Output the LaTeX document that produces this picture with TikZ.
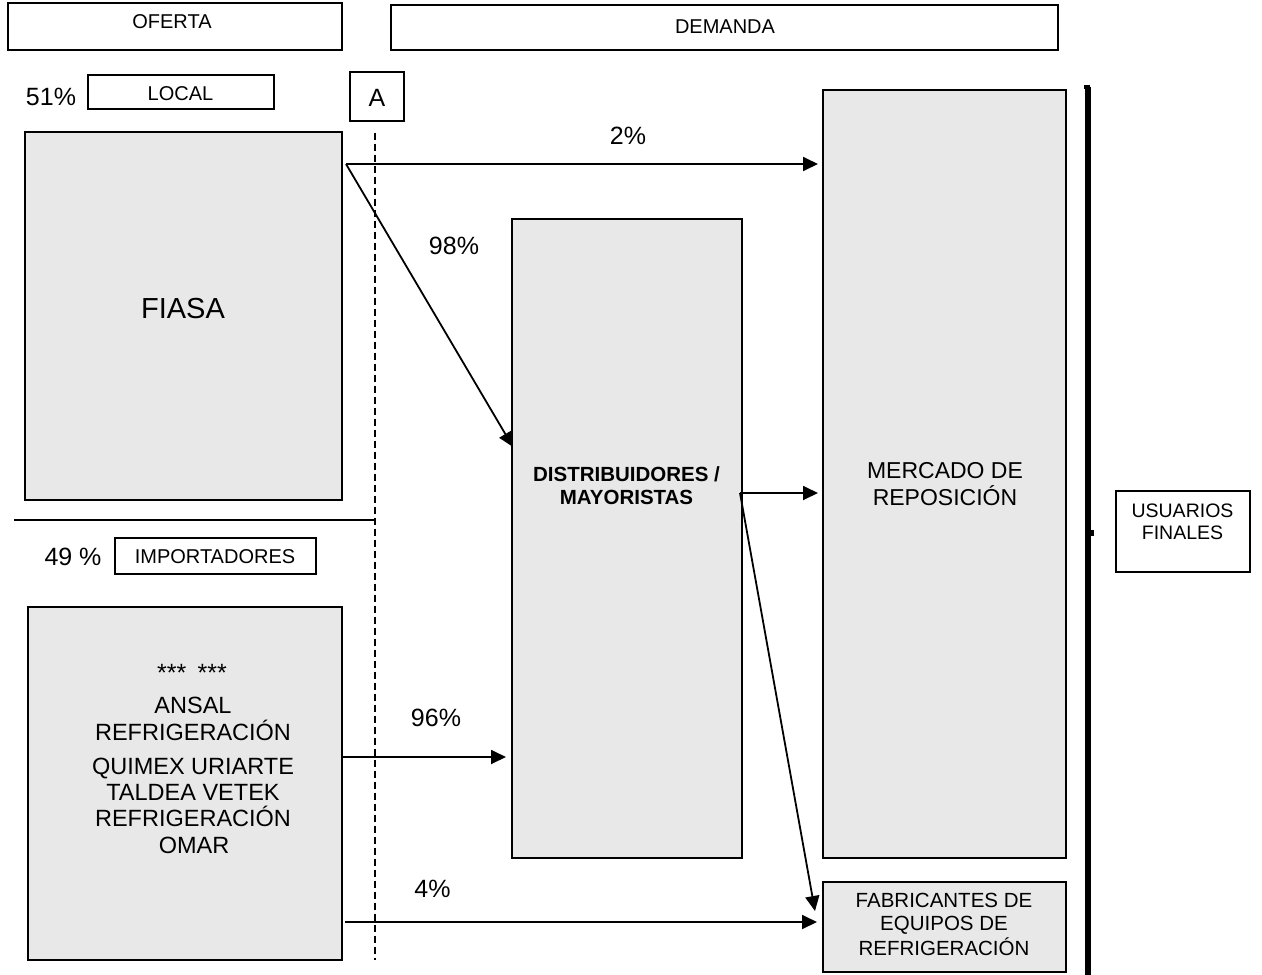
\documentclass[tikz,border=0pt]{standalone}
\usepackage{fontspec}
\setmainfont{Liberation Sans}
\usetikzlibrary{arrows.meta,calc}
\definecolor{boxgray}{RGB}{232,232,232}
\newcommand{\fsz}[1]{\fontsize{#1}{#1}\selectfont}
\begin{document}
\begin{tikzpicture}[x=1pt,y=-1pt,
  frame/.style={draw, line width=1.3pt, inner sep=0pt},
  grayframe/.style={frame, fill=boxgray},
  txt/.style={inner sep=0pt, anchor=base},
  arr/.style={line width=1.8pt, -{Triangle[length=15pt,width=14pt]}},
  sep/.style={line width=1.3pt},
  dline/.style={line width=1.3pt, dash pattern=on 7pt off 4pt},
]
\useasboundingbox (0,0) rectangle (1262,975);

% boxes
\node[frame, minimum width=334pt, minimum height=47pt] (oferta) at (175,26.5) {};
\node[frame, minimum width=667pt, minimum height=45pt] (demanda) at (724.5,27.5) {};
\node[frame, minimum width=186pt, minimum height=34pt] (local) at (181,92) {};
\node[frame, minimum width=54pt, minimum height=49pt] (abox) at (377,96.5) {};
\node[grayframe, minimum width=317pt, minimum height=368pt] (fiasa) at (183.5,316) {};
\node[frame, minimum width=201pt, minimum height=36pt] (imp) at (215.5,556) {};
\node[grayframe, minimum width=314pt, minimum height=353pt] (imps) at (185,783.5) {};
\node[grayframe, minimum width=230pt, minimum height=639pt] (dist) at (627,538.5) {};
\node[grayframe, minimum width=243pt, minimum height=768pt] (merc) at (944.5,474) {};
\node[grayframe, minimum width=243pt, minimum height=90pt] (fab) at (944.5,927) {};
\node[frame, minimum width=134pt, minimum height=81pt] (usu) at (1183,531.5) {};

% texts
\node[txt] (toferta) at (172,28) {\fsz{20}OFERTA};
\node[txt] (tdemanda) at (725,33) {\fsz{20}DEMANDA};
\node[txt] (p51) at (51,105) {\fsz{25}51\%};
\node[txt] (tlocal) at (180.5,100) {\fsz{20}LOCAL};
\node[txt] (ta) at (377,106) {\fsz{25}A};
\node[txt] (tfiasa) at (183,318) {\fsz{29}FIASA};
\node[txt] (p49) at (73,565) {\fsz{25}49 \%};
\node[txt] (timp) at (215,563) {\fsz{20}IMPORTADORES};
\node[txt] (i1) at (192,681) {\fsz{25}***\hspace{0.45em}***};
\node[txt] (i2) at (193,713) {\fsz{23.5}ANSAL};
\node[txt] (i3) at (193,740) {\fsz{23.5}REFRIGERACIÓN};
\node[txt] (i4) at (193,774) {\fsz{23.5}QUIMEX URIARTE};
\node[txt] (i5) at (193,800) {\fsz{23.5}TALDEA VETEK};
\node[txt] (i6) at (193,826) {\fsz{23.5}REFRIGERACIÓN};
\node[txt] (i7) at (194,853) {\fsz{23.5}OMAR};
\node[txt] (td1) at (626.5,481) {\fsz{20.5}\bfseries DISTRIBUIDORES /};
\node[txt] (td2) at (626.5,504) {\fsz{20.5}\bfseries MAYORISTAS};
\node[txt] (tm1) at (945,478) {\fsz{23}MERCADO DE};
\node[txt] (tm2) at (945,505) {\fsz{23}REPOSICIÓN};
\node[txt] (tf1) at (944,907) {\fsz{20.5}FABRICANTES DE};
\node[txt] (tf2) at (944,930) {\fsz{20.5}EQUIPOS DE};
\node[txt] (tf3) at (944,955) {\fsz{20.5}REFRIGERACIÓN};
\node[txt] (tu1) at (1182.5,517) {\fsz{19.5}USUARIOS};
\node[txt] (tu2) at (1182.5,539) {\fsz{19.5}FINALES};
\node[txt] (p2) at (628,144) {\fsz{25}2\%};
\node[txt] (p98) at (454,254) {\fsz{25}98\%};
\node[txt] (p96) at (436,726) {\fsz{25}96\%};
\node[txt] (p4) at (432.5,897) {\fsz{25}4\%};

% separators
\coordinate (dtop) at ($(abox.south)+(-2,11)$);
\coordinate (dbot) at (375,960);
\draw[dline] (dtop) -- (dbot);
\coordinate (hl) at (14,520);
\coordinate (hr) at (374,520);
\draw[sep] (hl) -- (hr);

% arrows
\coordinate (fa) at (346,164);
\coordinate (fm) at (818,164);
\coordinate (fd) at (513,447);
\draw[arr] (fa) -- (fm);
\draw[arr] (fa) -- (fd);
\coordinate (da) at (740,493);
\coordinate (dm) at (818,493);
\coordinate (df) at (815,911);
\draw[arr] (da) -- (dm);
\draw[arr] (da) -- (df);
\coordinate (ia) at (343,757);
\coordinate (id) at (506,757);
\draw[arr] (ia) -- (id);
\coordinate (ib) at (345,922);
\coordinate (ifab) at (817,922);
\draw[arr] (ib) -- (ifab);

% users bracket line
\coordinate (bt) at (1088,87);
\coordinate (bb) at (1088,975);
\draw[line width=5.5pt] (bt) -- (bb);
\fill (1083.5,84.5) rectangle (1090,89);
\fill (1088,530) rectangle (1093.5,536);
\end{tikzpicture}
\end{document}
